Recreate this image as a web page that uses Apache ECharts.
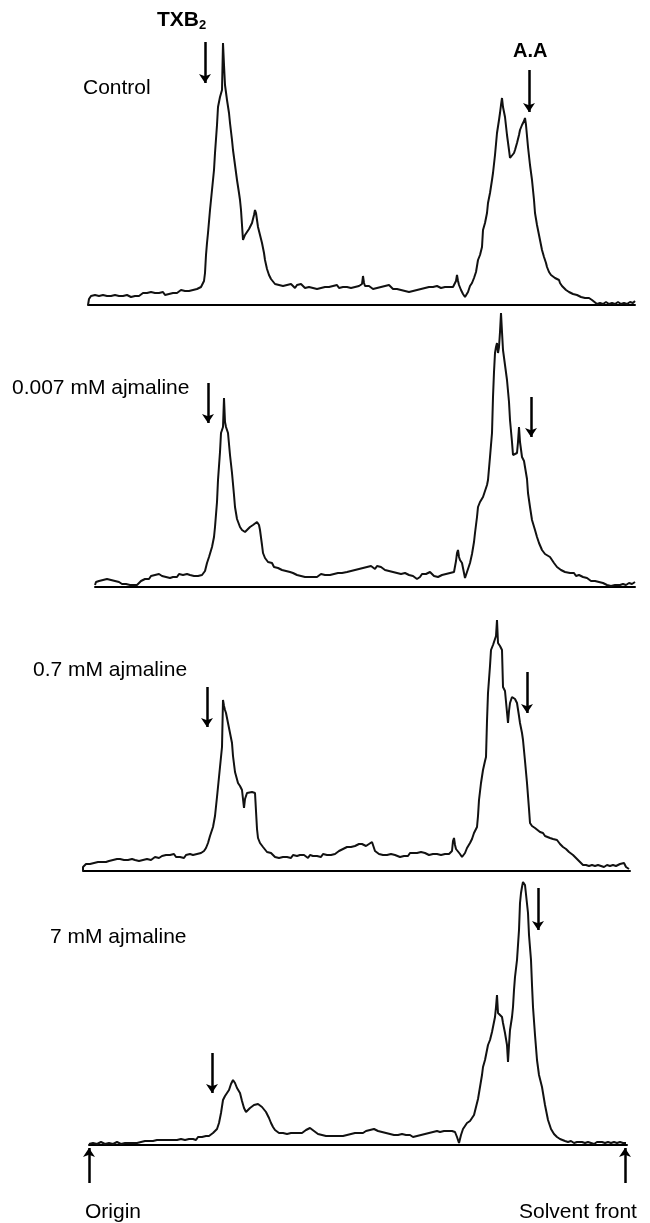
<!DOCTYPE html>
<html>
<head>
<meta charset="utf-8">
<script src="https://cdn.jsdelivr.net/npm/echarts@6/dist/echarts.min.js"></script>
<style>
  html, body { margin: 0; padding: 0; background: #fff; }
  #chart { width: 650px; height: 1223px; }
</style>
</head>
<body>
<div id="chart"></div>
<script>
// 放射性扫描：x = 距原点距离（任意单位），y = 相对放射性
const panelNames = ['Control', '0.007 mM ajmaline', '0.7 mM ajmaline', '7 mM ajmaline']

const controlScan = [[-1,0],[0,6],[2,9],[4,8],[6,10],[8,8],[10,9],[12,7],[14,10],[16,8],[18,9],[20,7],[22,9],[24,8],[26,10],[28,8],[30,9],[32,7],[34,9],[36,8],[38,10],[40,9],[42,8],[44,10],[46,9],[48,11],[50,9],[52,11],[54,12],[56,10],[58,12],[60,11],[62,13],[64,11],[66,12],[68,10],[70,12],[72,11],[74,13],[76,10],[78,12],[80,11],[82,13],[84,12],[86,14],[88,12],[90,13],[92,15],[94,13],[96,14],[98,12],[100,14],[102,13],[104,15],[106,14],[108,16],[110,15],[112,18],[113,19],[115,24],[116,32],[117,50],[118,62],[119,72],[121,95],[123,115],[125,135],[126,152],[128,180],[129,198],[131,208],[133,215],[134,262],[135,240],[136,220],[138,205],[140,192],[141,182],[143,165],[144,155],[146,140],[148,125],[150,112],[151,105],[152,95],[154,65],[156,70],[158,72],[160,76],[163,82],[165,90],[166,95],[167,92],[169,78],[171,70],[173,62],[175,52],[176,45],[178,36],[180,30],[182,26],[184,24],[186,21],[188,23],[190,20],[192,22],[194,19],[196,21],[198,20],[200,18],[202,21],[204,19],[206,17],[208,20],[210,18],[212,21],[214,19],[216,17],[218,19],[220,18],[222,20],[224,17],[226,19],[228,16],[230,18],[232,17],[234,19],[236,18],[238,20],[240,18],[242,17],[244,19],[246,18],[248,20],[250,17],[252,19],[254,18],[256,20],[258,18],[260,19],[262,17],[264,19],[266,18],[268,20],[270,19],[272,18],[273,21],[274,29],[275,22],[276,19],[278,17],[280,19],[282,18],[284,16],[286,18],[288,17],[290,19],[292,18],[294,17],[296,19],[298,17],[300,20],[302,18],[304,16],[306,15],[308,16],[310,14],[312,15],[314,13],[316,14],[318,12],[320,13],[322,12],[324,14],[326,13],[328,15],[330,14],[332,16],[334,15],[336,17],[338,16],[340,18],[342,16],[344,18],[346,17],[348,19],[350,18],[352,17],[354,19],[356,18],[358,20],[360,18],[362,19],[364,18],[366,19],[367,24],[368,30],[369,24],[370,20],[372,15],[374,11],[376,8],[377,7],[379,13],[381,19],[383,22],[385,27],[387,33],[389,45],[391,50],[393,58],[394,75],[396,82],[398,92],[399,102],[401,112],[403,125],[404,132],[406,150],[408,172],[410,185],[411,192],[412,200],[413,207],[414,198],[416,188],[418,170],[420,155],[421,147],[423,149],[425,152],[426,155],[428,162],[430,170],[431,175],[433,180],[435,184],[436,187],[437,180],[439,158],[441,140],[443,125],[445,105],[446,92],[448,80],[450,70],[451,65],[453,55],[455,48],[457,42],[458,38],[460,33],[462,30],[464,28],[466,27],[468,25],[470,25],[471,22],[473,19],[475,17],[477,15],[478,15],[480,13],[482,12],[484,11],[486,10],[488,10],[490,9],[492,8],[494,8],[496,7],[498,6],[500,7],[501,7],[503,5],[505,3],[508,1],[511,2],[514,1],[517,3],[520,1],[523,2],[526,1],[529,3],[532,1],[535,2],[538,1],[541,3],[544,2],[546,4]]

const lowScan = [[6,2],[7,5],[8,4],[10,6],[12,5],[14,7],[16,6],[18,8],[20,6],[22,7],[24,5],[26,6],[28,4],[30,5],[31,4],[33,3],[35,5],[37,3],[39,4],[41,2],[43,3],[45,2],[47,4],[48,2],[50,4],[52,6],[54,5],[56,8],[58,9],[60,8],[62,11],[64,10],[66,12],[68,10],[70,13],[71,13],[73,11],[75,13],[77,10],[79,12],[81,9],[84,10],[86,12],[88,10],[90,13],[92,11],[94,12],[96,10],[98,13],[101,12],[103,14],[105,11],[107,13],[109,11],[111,13],[113,12],[114,12],[116,16],[118,24],[120,30],[123,40],[125,50],[126,60],[128,85],[129,107],[131,135],[132,154],[134,160],[135,189],[136,165],[137,160],[139,154],[141,132],[143,114],[145,92],[146,80],[148,68],[151,60],[153,57],[156,55],[158,57],[161,60],[164,62],[166,63],[168,65],[170,62],[171,57],[173,42],[174,34],[176,29],[179,25],[181,23],[183,24],[185,20],[187,22],[189,19],[191,20],[193,17],[195,19],[197,16],[199,17],[201,15],[204,14],[206,15],[208,12],[210,14],[212,11],[214,12],[216,10],[218,12],[220,10],[222,11],[224,10],[226,12],[228,10],[230,11],[232,13],[234,11],[236,12],[238,14],[241,12],[243,14],[245,13],[247,15],[249,14],[251,16],[253,14],[255,16],[258,15],[260,17],[262,16],[264,18],[266,17],[268,19],[270,18],[272,20],[274,19],[276,21],[278,20],[280,19],[282,21],[284,20],[286,18],[288,21],[290,19],[292,20],[294,19],[296,17],[298,18],[300,16],[302,17],[304,15],[306,16],[308,14],[310,15],[312,13],[314,15],[316,14],[318,14],[320,12],[322,14],[324,11],[326,9],[328,8],[329,7],[331,10],[333,13],[335,15],[337,13],[339,14],[341,15],[343,13],[345,11],[347,13],[349,10],[351,10],[353,12],[355,14],[357,13],[359,15],[361,14],[363,13],[365,15],[366,15],[367,26],[368,34],[369,37],[370,30],[371,27],[373,24],[375,14],[376,9],[377,12],[379,18],[381,24],[383,33],[385,45],[386,54],[388,70],[389,80],[391,85],[394,90],[396,96],[398,102],[399,107],[401,130],[403,154],[404,190],[405,215],[406,234],[407,240],[408,244],[409,234],[410,240],[411,255],[412,274],[413,255],[414,237],[416,222],[418,207],[420,185],[421,167],[423,145],[424,132],[426,133],[428,134],[429,145],[430,160],[431,145],[433,130],[435,126],[436,124],[438,108],[439,94],[441,80],[443,67],[446,57],[448,50],[450,44],[453,37],[456,33],[458,31],[461,30],[463,27],[465,24],[468,20],[470,19],[472,17],[474,18],[476,15],[478,16],[481,14],[483,13],[485,14],[487,11],[490,12],[492,10],[494,10],[496,8],[498,9],[500,7],[502,6],[504,5],[506,6],[508,4],[510,5],[512,3],[514,4],[516,2],[518,2],[520,3],[522,1],[524,3],[526,2],[528,1],[531,2],[534,3],[537,2],[540,4],[543,3],[546,5]]

const midScan = [[-6,0],[-6,4],[-5,6],[-3,7],[-1,8],[1,7],[3,9],[5,8],[7,10],[9,9],[11,8],[13,9],[15,7],[17,9],[18,8],[20,10],[22,9],[24,11],[26,10],[28,12],[30,11],[31,12],[33,10],[35,11],[37,9],[39,11],[41,10],[43,12],[44,10],[46,11],[48,12],[50,10],[52,12],[54,11],[56,13],[58,12],[60,13],[62,11],[64,12],[66,14],[68,12],[70,13],[71,13],[73,15],[75,13],[77,16],[79,14],[81,16],[83,15],[85,17],[87,14],[89,16],[91,14],[93,15],[95,13],[97,16],[99,15],[101,17],[103,15],[104,16],[106,15],[108,17],[110,16],[112,18],[113,18],[115,20],[117,23],[119,28],[121,35],[124,44],[126,55],[128,74],[130,94],[131,104],[133,124],[134,171],[135,165],[136,161],[137,158],[139,148],[141,138],[143,128],[144,115],[146,99],[147,100],[149,88],[151,85],[153,81],[154,72],[155,63],[156,72],[158,78],[160,80],[163,79],[165,80],[166,78],[167,60],[168,42],[169,33],[171,28],[174,24],[176,22],[178,19],[180,17],[182,18],[184,16],[186,14],[188,16],[190,13],[192,15],[194,14],[196,16],[198,14],[200,15],[202,13],[204,16],[206,14],[208,15],[211,16],[213,14],[215,16],[217,15],[219,13],[221,16],[224,15],[226,17],[228,15],[230,16],[232,14],[234,17],[236,15],[238,16],[240,17],[242,16],[244,18],[246,17],[248,19],[250,20],[252,21],[254,22],[256,23],[258,24],[260,25],[262,24],[264,26],[266,25],[268,26],[270,27],[271,26],[273,27],[275,26],[277,25],[278,24],[280,27],[282,25],[283,29],[284,26],[286,20],[288,18],[290,17],[292,18],[294,16],[296,17],[298,16],[300,15],[302,17],[304,15],[306,16],[308,14],[311,14],[313,16],[315,15],[317,17],[319,15],[321,18],[324,18],[326,16],[328,18],[330,17],[332,19],[334,17],[336,18],[338,18],[340,16],[342,18],[344,17],[346,19],[348,17],[350,18],[352,16],[354,18],[356,17],[358,15],[360,17],[361,16],[363,20],[364,30],[365,33],[366,26],[367,22],[369,21],[371,17],[373,14],[374,13],[376,18],[378,23],[381,28],[383,32],[385,38],[388,44],[389,55],[390,71],[392,88],[394,101],[396,110],[397,114],[398,150],[399,178],[401,205],[402,221],[404,226],[406,228],[407,235],[408,251],[409,228],[411,225],[413,221],[414,184],[416,180],[418,178],[419,148],[420,160],[421,168],[423,174],[424,176],[426,172],[428,168],[430,155],[431,148],[433,138],[434,131],[436,110],[438,88],[440,62],[441,48],[443,45],[446,43],[448,41],[451,39],[454,38],[456,35],[458,34],[461,33],[464,32],[466,30],[468,31],[471,27],[474,24],[477,22],[480,19],[484,16],[487,13],[490,10],[492,8],[494,6],[497,6],[500,5],[503,6],[506,5],[509,6],[512,5],[515,4],[518,6],[521,5],[524,6],[527,5],[529,6],[531,7],[533,9],[535,8],[537,4],[538,3],[540,2]]

const highScan = [[0,1],[2,3],[4,2],[6,3],[8,1],[10,2],[12,3],[14,2],[16,1],[18,3],[20,2],[22,3],[24,1],[26,2],[28,3],[30,2],[32,1],[34,3],[36,2],[38,3],[40,2],[42,4],[44,2],[46,3],[48,2],[50,4],[52,3],[54,2],[56,4],[58,3],[60,4],[62,2],[64,4],[66,3],[68,5],[70,4],[72,5],[74,3],[76,5],[78,6],[80,5],[82,7],[84,5],[86,6],[88,5],[90,7],[92,6],[94,7],[96,5],[98,7],[100,6],[102,8],[104,6],[105,7],[107,5],[109,8],[111,9],[113,8],[115,10],[117,9],[118,10],[120,9],[122,11],[124,12],[126,13],[128,16],[130,22],[132,32],[134,45],[136,49],[138,52],[140,55],[142,61],[144,65],[146,62],[148,57],[151,52],[153,44],[155,37],[157,33],[159,35],[161,37],[163,38],[165,40],[167,39],[169,41],[171,40],[173,38],[175,36],[177,33],[178,32],[180,27],[182,22],[184,18],[186,15],[188,13],[190,12],[192,11],[194,12],[196,10],[198,11],[200,10],[202,12],[204,11],[206,12],[208,11],[209,12],[211,13],[213,12],[215,14],[217,15],[219,16],[221,17],[223,15],[225,14],[227,12],[229,11],[231,10],[233,10],[235,11],[237,9],[239,10],[241,9],[243,11],[245,9],[247,10],[249,9],[251,10],[254,9],[256,11],[258,10],[260,9],[262,11],[264,10],[266,12],[268,11],[270,12],[272,13],[274,12],[275,13],[277,14],[279,13],[281,15],[283,14],[285,16],[287,15],[289,14],[291,12],[293,13],[295,11],[297,12],[299,10],[301,11],[303,9],[305,10],[307,8],[309,10],[311,9],[313,11],[315,9],[317,10],[319,8],[321,10],[324,8],[326,10],[328,9],[330,11],[332,10],[334,12],[336,11],[338,13],[340,12],[342,14],[344,13],[346,15],[348,14],[349,15],[351,13],[353,15],[355,14],[357,12],[359,14],[361,13],[363,14],[365,13],[366,13],[368,8],[370,2],[372,10],[374,16],[376,19],[378,22],[381,24],[383,25],[385,30],[387,38],[389,46],[391,58],[393,70],[394,78],[396,85],[398,95],[399,100],[401,105],[403,113],[404,118],[406,128],[407,138],[408,150],[409,132],[411,130],[413,128],[414,122],[416,112],[418,100],[419,83],[420,100],[421,115],[423,128],[424,138],[425,155],[426,168],[428,185],[430,215],[431,242],[432,252],[433,258],[434,263],[436,260],[438,262],[439,232],[440,210],[442,185],[443,160],[444,138],[446,110],[448,85],[450,70],[453,58],[456,40],[459,25],[462,16],[465,11],[468,8],[471,6],[473,5],[476,4],[479,3],[482,4],[485,2],[488,3],[490,2],[493,3],[496,2],[499,3],[502,2],[505,1],[508,3],[510,2],[513,3],[516,2],[519,3],[522,2],[525,3],[528,2],[531,3],[534,2],[537,2]]

const scans = [controlScan, lowScan, midScan, highScan]

// 标准品位置箭头：[x, 起点y, 箭头y]
const txbMarkers = [[116, 263, 222], [119, 204, 164], [118, 184, 144], [123, 92, 52]]
const aaMarkers = [[440, 235, 193], [442, 190, 150], [438, 199, 158], [449, 257, 215]]
// 原点 / 溶剂前沿
const endMarkers = [[0, -38, -3], [536, -38, -3]]

// 每个面板的扫描范围
const scanRanges = [[-1, 546], [6, 546], [-6, 541], [0, 538]]

const chartRef = document.getElementById('chart')
const chart = echarts.init(chartRef)

const baseY = [305, 587, 871, 1145]
const FONT = 'Liberation Sans, Arial, Helvetica, sans-serif'

const grids = [], xAxes = [], yAxes = [], series = []
scans.forEach((scan, i) => {
  const [xmin, xmax] = scanRanges[i]
  const extra = i === 3 ? 50 : 0
  grids.push({
    left: 89 + xmin,
    width: xmax - xmin,
    bottom: 1223 - baseY[i] - extra,
    height: 280 + extra
  })
  xAxes.push({
    gridIndex: i,
    type: 'value',
    min: xmin,
    max: xmax,
    axisLine: { show: true, onZero: true, lineStyle: { color: '#000', width: 2 } },
    axisTick: { show: false },
    axisLabel: { show: false },
    splitLine: { show: false }
  })
  yAxes.push({
    gridIndex: i,
    type: 'value',
    show: false,
    min: i === 3 ? -50 : 0,
    max: 280,
    splitLine: { show: false }
  })
  const arrows = [txbMarkers[i], aaMarkers[i]]
  if (i === 3) arrows.push(...endMarkers)
  series.push({
    name: panelNames[i],
    type: 'line',
    xAxisIndex: i,
    yAxisIndex: i,
    data: scan,
    showSymbol: false,
    symbol: 'none',
    smooth: false,
    clip: false,
    lineStyle: { color: '#111', width: 2 },
    markLine: {
      silent: true,
      symbol: ['none', 'arrow'],
      symbolSize: 9,
      label: { show: false },
      lineStyle: { color: '#000', width: 2.5, type: 'solid' },
      data: arrows.map(a => [{ coord: [a[0], a[1]] }, { coord: [a[0], a[2]] }])
    }
  })
})

const txt = (text, left, top, extra) => Object.assign({
  text, left, top, padding: 0,
  textStyle: { fontFamily: FONT, fontSize: 21, fontWeight: 'normal', color: '#000' }
}, extra || {})

const option = {
  animation: false,
  backgroundColor: '#fff',
  title: [
    txt('Control', 83, 78),
    txt('0.007 mM ajmaline', 12, 378),
    txt('0.7 mM ajmaline', 33, 660),
    txt('7 mM ajmaline', 50, 927),
    txt('Origin', 85, 1202),
    txt('Solvent front', 519, 1202),
    txt('{a|TXB}{b|2}', 157, 9, {
      textStyle: {
        fontFamily: FONT, color: '#000',
        rich: {
          a: { fontFamily: FONT, fontSize: 21, fontWeight: 'bold', color: '#000' },
          b: { fontFamily: FONT, fontSize: 13, fontWeight: 'bold', color: '#000', padding: [10, 0, 0, 0] }
        }
      }
    }),
    txt('A.A', 513, 41, { textStyle: { fontFamily: FONT, fontSize: 20, fontWeight: 'bold', color: '#000' } })
  ],
  grid: grids,
  xAxis: xAxes,
  yAxis: yAxes,
  series
}

chart.setOption(option)
window.addEventListener('resize', () => chart.resize())
</script>
</body>
</html>
